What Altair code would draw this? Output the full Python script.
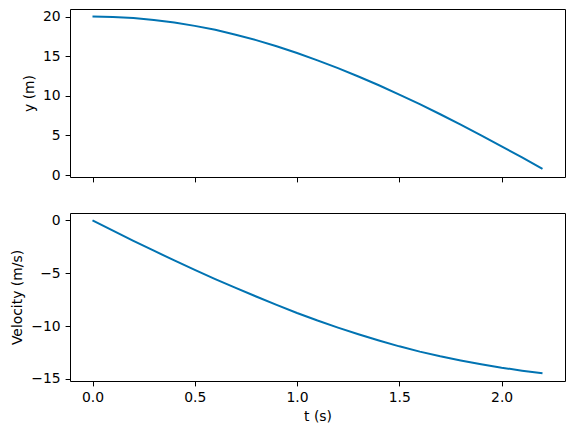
import altair as alt
import pandas as pd

# time samples (s)
t = [0.0, 0.1, 0.2, 0.3, 0.4, 0.5, 0.6, 0.7, 0.8, 0.9, 1.0, 1.1,
     1.2, 1.3, 1.4, 1.5, 1.6, 1.7, 1.8, 1.9, 2.0, 2.1, 2.2]
# height (m)
y = [20.0, 19.95, 19.81, 19.58, 19.25, 18.83, 18.33, 17.72, 17.03, 16.26, 15.40, 14.48,
     13.49, 12.44, 11.33, 10.16, 8.94, 7.67, 6.36, 5.01, 3.63, 2.22, 0.78]
# velocity (m/s)
v = [0.0, -0.97, -1.93, -2.87, -3.79, -4.68, -5.55, -6.39, -7.20, -7.99, -8.76, -9.48,
     -10.15, -10.78, -11.37, -11.92, -12.42, -12.86, -13.25, -13.61, -13.94, -14.22, -14.47]

x_ticks = [0.0, 0.5, 1.0, 1.5, 2.0]
y_ticks = [0, 5, 10, 15, 20]
v_ticks = [-15, -10, -5, 0]

df = pd.DataFrame({"t": t, "y": y, "v": v})

FONT = "DejaVu Sans"
BLUE = "#0173b2"
W, H = 495, 168

x_scale = alt.Scale(domain=[-0.11, 2.31], nice=False, zero=False)

top = alt.Chart(df).mark_line(color=BLUE, strokeWidth=2).encode(
    x=alt.X("t:Q", scale=x_scale,
            axis=alt.Axis(values=x_ticks, labels=False, title=None)),
    y=alt.Y("y:Q", scale=alt.Scale(domain=[-0.25, 20.96], nice=False, zero=False),
            axis=alt.Axis(values=y_ticks, format="d", title="y (m)")),
).properties(width=W, height=H)

bottom = alt.Chart(df).mark_line(color=BLUE, strokeWidth=2).encode(
    x=alt.X("t:Q", scale=x_scale,
            axis=alt.Axis(values=x_ticks, format=".1f", title="t (s)")),
    y=alt.Y("v:Q", scale=alt.Scale(domain=[-15.2, 0.7], nice=False, zero=False),
            axis=alt.Axis(values=v_ticks, format="d", title="Velocity (m/s)")),
).properties(width=W, height=H)

chart = alt.vconcat(top, bottom, spacing=29).properties(
    padding={"left": 2, "top": 0, "right": 0, "bottom": 0}
).configure_view(
    stroke="black", strokeWidth=1
).configure_axis(
    domain=False, grid=False,
    tickColor="black", tickSize=4.9, tickWidth=1,
    labelFont=FONT, labelFontSize=13.9, labelColor="black", labelPadding=4.9,
    titleFont=FONT, titleFontSize=13.9, titleFontWeight="normal", titleColor="black",
    titlePadding=5,
).configure_axisY(
    titlePadding=6,
)

chart.save("out.html", embed_options={"renderer": "svg", "actions": False})
